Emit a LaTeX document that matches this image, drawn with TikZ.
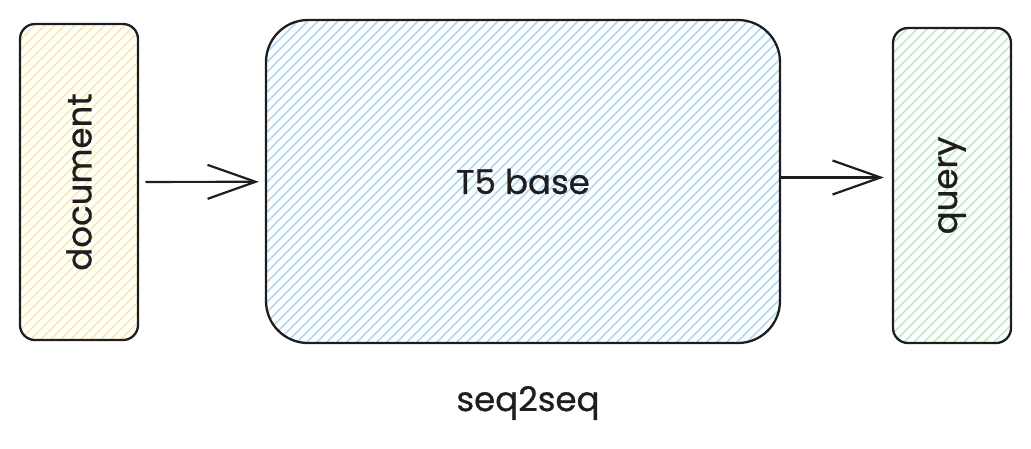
\documentclass[tikz,border=0pt]{standalone}
\usepackage{fontspec}
\setmainfont{Poppins}
\newfontfamily\lblfont{Poppins}[FakeBold=0.7]
\usetikzlibrary{arrows.meta}
\definecolor{ink}{HTML}{1E1E1E}
\definecolor{hy}{HTML}{FFE58A}
\definecolor{hb}{HTML}{9CD2FF}
\definecolor{hg}{HTML}{A8EDB3}
\tikzset{
  hatch/.style={path picture={
    \foreach \i in {-560,-550,...,560}{
      \draw[#1, line width=1.1pt] ([xshift=\i pt]path picture bounding box.south west) -- ++(560pt,560pt);
    }}},
  box/.style={draw=ink, line width=2.3pt, inner sep=0pt},
  lbl/.style={text=ink, font=\lblfont\fontsize{34}{40}\selectfont, inner sep=0pt},
  arr/.style={draw=ink, line width=2.2pt, line cap=round,
    -{Straight Barb[length=48pt, width=34pt, line width=2.2pt]}},
}
\begin{document}
\begin{tikzpicture}[x=1pt,y=-1pt]
\useasboundingbox (0,0) rectangle (1031,448);
\node[box, hatch=hy, rounded corners=15pt, minimum width=118pt, minimum height=316pt] (doc) at (79,182) {};
\node[box, hatch=hb, rounded corners=42pt, minimum width=514pt, minimum height=323pt] (t5) at (523,181.5) {};
\node[box, hatch=hg, rounded corners=15pt, minimum width=118pt, minimum height=315pt] (q) at (952,185.5) {};
\node[lbl, rotate=90] (docl) at (doc.center) {document};
\node[lbl, rotate=90] (ql) at (q.center) {query};
\node[lbl] (t5l) at (t5.center) {T5 base};
\node[lbl] (s2s) at (528,403) {seq2seq};
\draw[arr, shorten <=7pt, shorten >=6pt] (doc) -- (t5);
\draw[arr, shorten >=8pt] ([yshift=4pt]t5.east) -- ([yshift=4pt]t5.east -| q.west);
\end{tikzpicture}
\end{document}
